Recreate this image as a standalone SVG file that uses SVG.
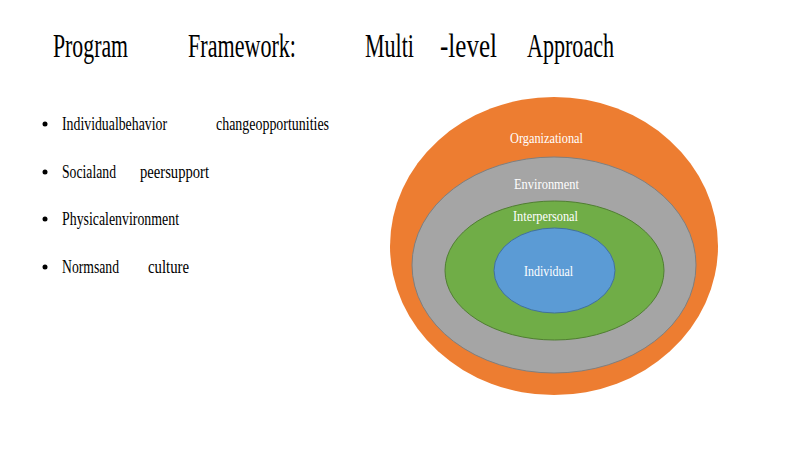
<svg xmlns="http://www.w3.org/2000/svg" width="800" height="450" viewBox="0 0 800 450">
<style>
.t{font-family:"Liberation Serif","Times New Roman",serif;fill:#000}
.title{font-size:34px}
.b{font-size:19px}
.lbl{font-family:"Liberation Serif","Times New Roman",serif;font-size:14px;fill:#fff}
</style>
<rect width="800" height="450" fill="#fff"/>
<g id="title" class="t title">
<text x="53" y="57" textLength="75" lengthAdjust="spacingAndGlyphs">Program</text>
<text x="188" y="57" textLength="108" lengthAdjust="spacingAndGlyphs">Framework:</text>
<text x="365" y="57" textLength="49" lengthAdjust="spacingAndGlyphs">Multi</text>
<text x="440" y="57" textLength="57" lengthAdjust="spacingAndGlyphs">-level</text>
<text x="527" y="57" textLength="87" lengthAdjust="spacingAndGlyphs">Approach</text>
</g>
<g id="bullets" class="t b">
<circle cx="45" cy="124" r="2.5"/>
<text x="62" y="130" textLength="105" lengthAdjust="spacingAndGlyphs">Individualbehavior</text>
<text x="216" y="130" textLength="113" lengthAdjust="spacingAndGlyphs">changeopportunities</text>
<circle cx="45" cy="172" r="2.5"/>
<text x="62" y="178" textLength="54" lengthAdjust="spacingAndGlyphs">Socialand</text>
<text x="140" y="178" textLength="69" lengthAdjust="spacingAndGlyphs">peersupport</text>
<circle cx="45" cy="219" r="2.5"/>
<text x="62" y="225" textLength="117" lengthAdjust="spacingAndGlyphs">Physicalenvironment</text>
<circle cx="45" cy="267" r="2.5"/>
<text x="62" y="273" textLength="57" lengthAdjust="spacingAndGlyphs">Normsand</text>
<text x="148" y="273" textLength="41" lengthAdjust="spacingAndGlyphs">culture</text>
</g>
<g id="connectors"/>
<g id="organizational">
<ellipse cx="554" cy="246" rx="164" ry="149" fill="#ED7D31"/>
<text class="lbl" x="510" y="143" textLength="73" lengthAdjust="spacingAndGlyphs">Organizational</text>
</g>
<g id="environment">
<ellipse cx="554" cy="265" rx="142" ry="108" fill="#A5A5A5" stroke="#7F7F7F" stroke-width="1"/>
<text class="lbl" x="514" y="189" textLength="65" lengthAdjust="spacingAndGlyphs">Environment</text>
</g>
<g id="interpersonal">
<ellipse cx="554.5" cy="270.5" rx="109.5" ry="69.5" fill="#70AD47" stroke="#507E32" stroke-width="1"/>
<text class="lbl" x="513" y="221" textLength="65" lengthAdjust="spacingAndGlyphs">Interpersonal</text>
</g>
<g id="individual">
<ellipse cx="554.5" cy="270.5" rx="60.5" ry="42.5" fill="#5B9BD5" stroke="#41719C" stroke-width="1"/>
<text class="lbl" x="524" y="276" textLength="49" lengthAdjust="spacingAndGlyphs">Individual</text>
</g>
</svg>
